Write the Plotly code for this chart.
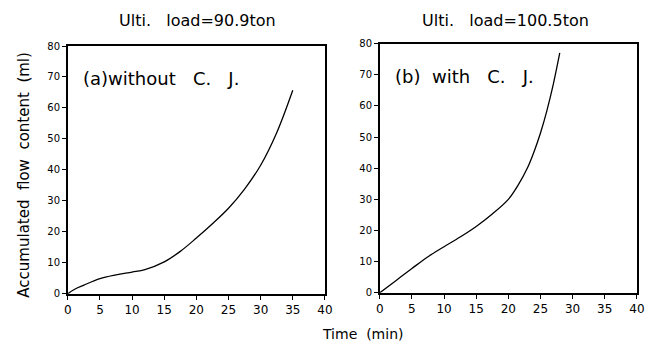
import plotly.graph_objects as go

# (a) without C. J.
time_a = [0, 1, 2.5, 5, 7.5, 10, 12, 15, 17.5, 20, 22.5, 25, 27.5, 30, 32.5, 35]
flow_a = [0, 1.4, 2.8, 4.9, 6.1, 7.0, 7.8, 10.3, 13.7, 18.0, 22.6, 27.6, 33.8, 41.5, 52.0, 65.7]
# (b) with C. J.
time_b = [0, 2.5, 5, 7.5, 10, 12.5, 15, 17.5, 20, 21.5, 23, 24, 25, 26, 27, 28]
flow_b = [0, 3.9, 7.8, 11.6, 14.8, 17.9, 21.3, 25.3, 30.0, 34.5, 40.2, 45.3, 51.3, 58.5, 67.0, 77.0]

titles = ["Ulti.   load=90.9ton", "Ulti.   load=100.5ton"]
labels = ["(a)without   C.   J.", "(b)  with   C.   J."]
x_ticks = [0, 5, 10, 15, 20, 25, 30, 35, 40]
y_ticks = [0, 10, 20, 30, 40, 50, 60, 70, 80]

FONT = "DejaVu Sans"
fig = go.Figure()
fig.add_trace(go.Scatter(x=time_a, y=flow_a, mode="lines", line=dict(color="black", width=1.3, shape="spline"),
                         xaxis="x", yaxis="y", showlegend=False))
fig.add_trace(go.Scatter(x=time_b, y=flow_b, mode="lines", line=dict(color="black", width=1.3, shape="spline"),
                         xaxis="x2", yaxis="y2", showlegend=False))

ax_common = dict(showgrid=False, zeroline=False, showline=True, linecolor="black", linewidth=1.5,
                 mirror=True, ticks="outside", ticklen=4, tickcolor="black")
xfont = dict(family=FONT, size=12, color="black")
yfont = dict(family=FONT, size=10, color="black")

fig.update_layout(
    width=650, height=351, margin=dict(l=0, r=0, t=0, b=0),
    paper_bgcolor="white", plot_bgcolor="white",
    xaxis=dict(domain=[0.100, 0.503], range=[0, 40], tickvals=x_ticks, anchor="y", tickfont=xfont, **ax_common),
    yaxis=dict(domain=[0.151, 0.882], range=[0, 80], tickvals=y_ticks, anchor="x", tickfont=yfont, **ax_common),
    xaxis2=dict(domain=[0.589, 0.992], range=[0, 40], tickvals=x_ticks, anchor="y2", tickfont=xfont, **ax_common),
    yaxis2=dict(domain=[0.154, 0.889], range=[0, 80], tickvals=y_ticks, anchor="x2", tickfont=yfont, **ax_common),
)

ann = [
    dict(x=197/650, y=1-15/351, text=titles[0], size=16),
    dict(x=511/650, y=1-15/351, text=titles[1], size=16),
    dict(x=366/650, y=1-340/351, text="Time  (min)", size=14),
]
for a in ann:
    fig.add_annotation(x=a["x"], y=a["y"], xref="paper", yref="paper", text=a["text"], showarrow=False,
                       font=dict(family=FONT, size=a["size"], color="black"), xanchor="center", yanchor="middle")
fig.add_annotation(x=20/650, y=1-175/351, xref="paper", yref="paper", text="Accumulated  flow  content  (ml)",
                   textangle=-90, showarrow=False, font=dict(family=FONT, size=15, color="black"),
                   xanchor="center", yanchor="middle")
fig.add_annotation(x=2, y=69.5, xref="x", yref="y", text=labels[0], showarrow=False, xanchor="left",
                   font=dict(family=FONT, size=18, color="black"))
fig.add_annotation(x=2, y=69.5, xref="x2", yref="y2", text=labels[1], showarrow=False, xanchor="left",
                   font=dict(family=FONT, size=18, color="black"))

fig.write_html("out.html")
